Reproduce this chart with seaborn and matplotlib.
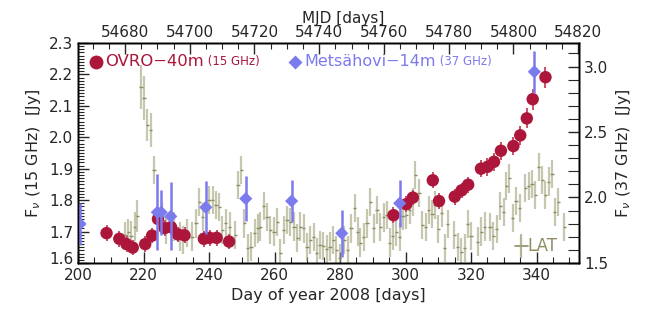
import numpy as np
import pandas as pd
import seaborn as sns
import matplotlib.pyplot as plt
from matplotlib.ticker import MultipleLocator
from matplotlib.transforms import ScaledTranslation

# %% DATA
# OVRO 40m, 15 GHz  (left axis)
ovro_day = [208.7, 212.6, 214.8, 216.7, 220.5, 222.6, 224.4, 226.4, 228.4, 230.5,
            232.5, 238.4, 240.2, 242.3, 246.1, 296.3, 300.2, 302.2, 308.3, 310.2,
            315.0, 317.1, 319.1, 323.0, 325.0, 327.0, 329.1, 332.9, 335.0, 337.0,
            338.8, 342.7]
ovro_flux = [1.695, 1.677, 1.660, 1.649, 1.660, 1.687, 1.740, 1.711, 1.714, 1.691,
             1.688, 1.677, 1.680, 1.680, 1.668, 1.752, 1.787, 1.808, 1.863, 1.797,
             1.811, 1.831, 1.849, 1.900, 1.906, 1.922, 1.957, 1.972, 2.006, 2.060,
             2.121, 2.191]
ovro_err = [0.025, 0.025, 0.025, 0.025, 0.025, 0.025, 0.025, 0.025, 0.025, 0.025,
            0.025, 0.025, 0.025, 0.025, 0.025, 0.025, 0.025, 0.025, 0.025, 0.025,
            0.025, 0.025, 0.025, 0.028, 0.028, 0.028, 0.028, 0.030, 0.030, 0.032,
            0.033, 0.034]

# Metsahovi 14m, 37 GHz  (right axis)
mets_day = [200.6, 224.2, 225.4, 228.3, 239.0, 251.2, 265.2, 280.5, 298.2, 339.3]
mets_flux = [1.798, 1.887, 1.887, 1.856, 1.925, 1.991, 1.973, 1.727, 1.956, 2.960]
mets_err = [0.16, 0.29, 0.17, 0.26, 0.20, 0.17, 0.16, 0.18, 0.18, 0.16]

# Fermi LAT, plotted in left-axis units
lat_day = [214.4, 215.3, 216.2, 217.3, 218.1, 219.2, 220.1, 221.1, 222.2, 223.2,
           225.6, 227.0, 229.3, 231.1, 232.1, 233.3, 234.8, 236.0, 237.0, 238.0,
           240.0, 241.1, 242.1, 243.1, 244.1, 245.1, 246.3, 248.0, 248.8, 249.8,
           250.8, 251.8, 252.8, 253.9, 254.9, 255.7, 256.7, 257.7, 258.7, 259.8,
           260.8, 261.8, 262.8, 263.8, 264.8, 265.9, 266.9, 267.9, 268.9, 269.9,
           270.9, 271.9, 272.9, 273.9, 274.9, 275.9, 276.9, 277.9, 278.9, 279.9,
           281.3, 282.3, 283.3, 284.4, 285.4, 286.2, 287.2, 288.2, 289.2, 290.2,
           291.3, 292.3, 293.3, 294.3, 295.1, 296.1, 297.2, 298.2, 299.2, 300.2,
           301.2, 302.2, 303.0, 304.1, 305.1, 306.1, 307.1, 308.1, 308.9, 310.0,
           311.0, 311.9, 312.9, 314.9, 315.9, 317.0, 318.0, 319.0, 320.0, 322.0,
           323.1, 324.1, 325.8, 326.8, 327.8, 328.9, 329.9, 330.7, 331.7, 332.7,
           333.7, 334.8, 336.6, 337.6, 338.6, 339.6, 340.6, 341.7, 342.7, 343.7,
           344.7, 345.5, 346.6, 348.4]
lat_flux = [1.689, 1.700, 1.687, 1.716, 1.750, 2.159, 2.124, 2.039, 2.023, 1.896,
            1.747, 1.705, 1.716, 1.684, 1.673, 1.695, 1.684, 1.726, 1.795, 1.747,
            1.800, 1.800, 1.785, 1.779, 1.705, 1.726, 1.716, 1.689, 1.848, 1.896,
            1.726, 1.647, 1.652, 1.695, 1.710, 1.716, 1.781, 1.747, 1.705, 1.700,
            1.731, 1.631, 1.705, 1.737, 1.731, 1.716, 1.679, 1.716, 1.710, 1.650,
            1.673, 1.682, 1.633, 1.657, 1.654, 1.644, 1.652, 1.673, 1.641, 1.615,
            1.673, 1.641, 1.710, 1.774, 1.700, 1.665, 1.682, 1.726, 1.795, 1.710,
            1.769, 1.714, 1.745, 1.752, 1.665, 1.686, 1.700, 1.682, 1.750, 1.753,
            1.769, 1.795, 1.880, 1.822, 1.721, 1.714, 1.769, 1.756, 1.785, 1.707,
            1.760, 1.647, 1.724, 1.689, 1.650, 1.636, 1.647, 1.724, 1.686, 1.668,
            1.700, 1.716, 1.714, 1.686, 1.709, 1.781, 1.763, 1.845, 1.869, 1.742,
            1.798, 1.774, 1.838, 1.845, 1.852, 1.816, 1.905, 1.864, 1.816, 1.859,
            1.883, 1.763, 1.795, 1.714]
lat_err = [0.040, 0.040, 0.045, 0.045, 0.050, 0.070, 0.070, 0.050, 0.055, 0.045,
           0.045, 0.045, 0.045, 0.045, 0.045, 0.045, 0.045, 0.045, 0.045, 0.045,
           0.045, 0.045, 0.045, 0.045, 0.045, 0.045, 0.045, 0.045, 0.045, 0.045,
           0.045, 0.045, 0.045, 0.045, 0.045, 0.045, 0.045, 0.045, 0.045, 0.045,
           0.045, 0.045, 0.045, 0.045, 0.045, 0.045, 0.045, 0.045, 0.045, 0.045,
           0.045, 0.045, 0.045, 0.045, 0.045, 0.045, 0.045, 0.045, 0.045, 0.045,
           0.045, 0.045, 0.045, 0.045, 0.045, 0.045, 0.045, 0.045, 0.045, 0.045,
           0.045, 0.045, 0.045, 0.045, 0.045, 0.045, 0.045, 0.045, 0.045, 0.045,
           0.045, 0.045, 0.045, 0.045, 0.045, 0.045, 0.045, 0.045, 0.045, 0.045,
           0.045, 0.045, 0.045, 0.045, 0.045, 0.045, 0.045, 0.045, 0.045, 0.045,
           0.045, 0.045, 0.045, 0.045, 0.045, 0.045, 0.045, 0.045, 0.045, 0.045,
           0.045, 0.045, 0.045, 0.045, 0.045, 0.045, 0.045, 0.045, 0.045, 0.045,
           0.045, 0.045, 0.045, 0.045]

left_ticks = [1.6, 1.7, 1.8, 1.9, 2.0, 2.1, 2.2, 2.3]

ovro = pd.DataFrame({'day': ovro_day, 'flux': ovro_flux, 'err': ovro_err})
mets = pd.DataFrame({'day': mets_day, 'flux': mets_flux, 'err': mets_err})
lat = pd.DataFrame({'day': lat_day, 'flux': lat_flux, 'err': lat_err})

# %% STYLE
sns.set_style("ticks")
plt.rcParams['font.family'] = ['DejaVu Sans']
plt.rcParams['font.size'] = 11

RED = '#ab163a'
RED_BAR = '#c9506a'
BLUE = '#7b7bee'
OLIVE = '#a3a17a'
OLIVE_DARK = '#8f8c62'

fig = plt.figure(figsize=(6.45, 3.18), dpi=100)
ax = fig.add_axes([0.121, 0.173, 0.777, 0.692])

# LAT light curve
ax.errorbar(lat['day'], lat['flux'], yerr=lat['err'], fmt='none',
            ecolor=OLIVE, elinewidth=1.6, alpha=0.6, zorder=1)
ax.errorbar(lat['day'], lat['flux'], xerr=0.5, fmt='none',
            ecolor=OLIVE_DARK, elinewidth=1.0, zorder=1)

# OVRO
ax.errorbar(ovro['day'], ovro['flux'], yerr=ovro['err'], fmt='none',
            ecolor=RED_BAR, elinewidth=1.4, zorder=3)
sns.scatterplot(data=ovro, x='day', y='flux', ax=ax, color=RED, s=80,
                edgecolor='none', zorder=4)

ax.set_xlim(200, 353)
ax.set_ylim(1.6, 2.3)
ax.xaxis.set_major_locator(MultipleLocator(20))
ax.xaxis.set_minor_locator(MultipleLocator(5))
ax.set_yticks(left_ticks)
ax.yaxis.set_minor_locator(MultipleLocator(0.01))
ax.set_xticks(np.arange(200, 341, 20))
ax.set_xlabel('Day of year 2008 [days]', fontsize=11.5)
ax.set_ylabel(r'F$_\nu$ (15 GHz)  [Jy]', fontsize=11.5)
ax.tick_params(which='both', direction='in', top=False, right=False)
ax.tick_params(which='major', length=8, width=1)
ax.tick_params(which='minor', length=4, width=0.8)

# nudge the bottom left tick label up a little, as in the original
lab16 = ax.yaxis.get_major_ticks()[0].label1
lab16.set_transform(lab16.get_transform() +
                    ScaledTranslation(0, 5 / 100, fig.dpi_scale_trans))

# Metsahovi on the right axis
ax2 = ax.twinx()
ax2.errorbar(mets['day'], mets['flux'], yerr=mets['err'], fmt='none',
             ecolor=BLUE, elinewidth=1.8, zorder=3)
sns.scatterplot(data=mets, x='day', y='flux', ax=ax2, color=BLUE, marker='D',
                s=45, edgecolor='none', zorder=4)
ax2.set_ylim(1.5, 3.18)
ax2.yaxis.set_major_locator(MultipleLocator(0.5))
ax2.yaxis.set_minor_locator(MultipleLocator(0.1))
ax2.set_ylabel(r'F$_\nu$ (37 GHz)  [Jy]', fontsize=11.5)
ax2.tick_params(which='both', direction='in')
ax2.tick_params(which='major', length=8, width=1)
ax2.tick_params(which='minor', length=8, width=0.8)

# MJD axis on top
axt = ax.twiny()
axt.set_xlim(54665.5, 54820.3)
axt.xaxis.set_major_locator(MultipleLocator(20))
axt.xaxis.set_minor_locator(MultipleLocator(5))
axt.tick_params(which='both', direction='in', pad=2)
axt.tick_params(which='major', length=8, width=1)
axt.tick_params(which='minor', length=4, width=0.8)
axt.set_xlabel('MJD [days]', fontsize=11)
axt.xaxis.set_label_coords(0.53, 1.09)

for a in (ax, ax2, axt):
    for s in a.spines.values():
        s.set_linewidth(1)
        s.set_color('black')

# legend texts
ax.plot([0.036], [0.914], 'o', transform=ax.transAxes, ms=10, color=RED,
        mec='none', clip_on=False, zorder=6)
t1 = ax.text(0.054, 0.914, 'OVRO\u221240m', transform=ax.transAxes, color=RED,
             fontsize=11.8, va='center')
ax.annotate(' (15 GHz)', xy=(1, 0.1), xycoords=t1, va='bottom', color=RED,
            fontsize=8.5)
ax.plot([0.433], [0.914], 'D', transform=ax.transAxes, ms=7, color=BLUE,
        mec='none', clip_on=False, zorder=6)
t2 = ax.text(0.451, 0.914, 'Mets\u00e4hovi\u221214m', transform=ax.transAxes,
             color=BLUE, fontsize=11.5, va='center')
ax.annotate(' (37 GHz)', xy=(1, 0.1), xycoords=t2, va='bottom', color=BLUE,
            fontsize=8.5)

# LAT legend glyph
ax.plot([0.871, 0.897], [0.077, 0.077], transform=ax.transAxes,
        color=OLIVE_DARK, lw=1.2)
ax.plot([0.884, 0.884], [0.027, 0.127], transform=ax.transAxes,
        color=OLIVE, lw=1.6, alpha=0.8)
ax.text(0.896, 0.077, 'LAT', transform=ax.transAxes, color=OLIVE_DARK,
        fontsize=12, va='center')

plt.savefig('out.png', dpi=100)
